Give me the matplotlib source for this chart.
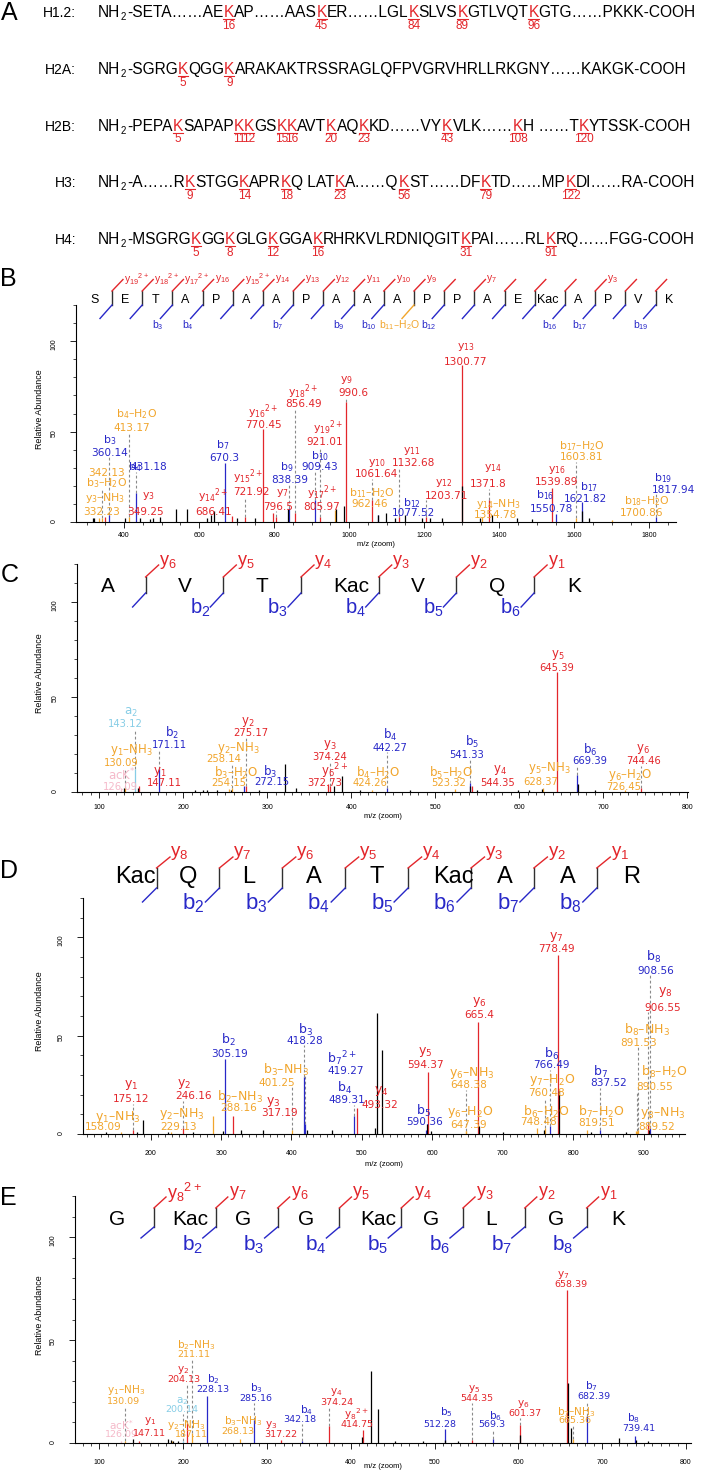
import re
import matplotlib
matplotlib.use('Agg')
import matplotlib.pyplot as plt
from matplotlib.ticker import MultipleLocator

plt.rcParams['font.family'] = ['Liberation Sans', 'DejaVu Sans']

W, H = 701, 1473
fig = plt.figure(figsize=(W / 100, H / 100), dpi=100)
renderer = fig.canvas.get_renderer()

RED = '#e3262b'; BLUE = '#2828c8'; ORANGE = '#f1a52c'; LBLUE = '#86cde6'; PINK = '#f5b9c9'
GREY = '#8a8a8a'
COL = {'y': RED, 'b': BLUE, 'o': ORANGE, 'a': LBLUE, 'k': PINK}
SEQF = 'Liberation Sans'
LABF = 'DejaVu Sans'

# ---------------- Panel A data ----------------
hist_names = ['H1.2:', 'H2A:', 'H2B:', 'H3:', 'H4:']
hist_seqs = [
    'NH2-SETA……AE[K]AP……AAS[K]ER……LGL[K]SLVS[K]GTLVQT[K]GTG……PKKK-COOH',
    'NH2-SGRG[K]QGG[K]ARAKAKTRSSRAGLQFPVGRVHRLLRKGNY……KAKGK-COOH',
    'NH2-PEPA[K]SAPAP[K][K]GS[K][K]AVT[K]AQ[K]KD……VY[K]VLK……[K]H ……T[K]YTSSK-COOH',
    'NH2-A……R[K]STGG[K]APR[K]Q LAT[K]A……Q[K]ST……DF[K]TD……MP[K]DI……RA-COOH',
    'NH2-MSGRG[K]GG[K]GLG[K]GGA[K]RHRKVLRDNIQGIT[K]PAI……RL[K]RQ……FGG-COOH',
]
hist_sites = [[16, 45, 84, 89, 96], [5, 9], [5, 11, 12, 15, 16, 20, 23, 43, 108, 120],
              [9, 14, 18, 23, 56, 79, 122], [5, 8, 12, 16, 31, 91]]

# ---------------- Panel B data ----------------
B_seq = ['S', 'E', 'T', 'A', 'P', 'A', 'A', 'P', 'A', 'A', 'A', 'P', 'P', 'A', 'E', 'Kac', 'A', 'P', 'V', 'K']
B_ylab = {1: 'y_{19}{}^{2+}', 2: 'y_{18}{}^{2+}', 3: 'y_{17}{}^{2+}', 4: 'y_{16}', 5: 'y_{15}{}^{2+}',
          6: 'y_{14}', 7: 'y_{13}', 8: 'y_{12}', 9: 'y_{11}', 10: 'y_{10}', 11: 'y_9', 13: 'y_7', 17: 'y_3'}
B_blab = {3: 'b_3', 4: 'b_4', 7: 'b_7', 9: 'b_9', 10: 'b_{10}', 11: 'b_{11}–H_2O', 12: 'b_{12}',
          16: 'b_{16}', 17: 'b_{17}', 19: 'b_{19}'}
B_bcol = {11: ORANGE}
B_ion_type = ['b', 'b', 'o', 'o', 'o', 'y', 'y', 'b', 'y', 'y', 'y', 'y', 'b', 'y', 'b', 'y', 'y', 'o', 'y',
              'y', 'b', 'y', 'y', 'y', 'o', 'y', 'b', 'b', 'o', 'o', 'b']
B_ion_name = ['b_3', 'b_4', 'b_4–H_2O', 'b_3–H_2O', 'y_3–NH_3', 'y_3', 'y_{14}{}^{2+}', 'b_7',
              'y_{15}{}^{2+}', 'y_{16}{}^{2+}', 'y_{18}{}^{2+}', 'y_7', 'b_9', 'y_{19}{}^{2+}', 'b_{10}',
              'y_{17}{}^{2+}', 'y_9', 'b_{11}–H_2O', 'y_{10}', 'y_{11}', 'b_{12}', 'y_{12}', 'y_{13}',
              'y_{14}', 'y_{14}–NH_3', 'y_{16}', 'b_{16}', 'b_{17}', 'b_{17}–H_2O', 'b_{18}–H_2O', 'b_{19}']
B_ion_mz = [360.14, 431.18, 413.17, 342.13, 332.23, 349.25, 686.41, 670.3, 721.92, 770.45, 856.49, 796.5,
            838.39, 921.01, 909.43, 805.97, 990.6, 962.46, 1061.64, 1132.68, 1077.52, 1203.71, 1300.77,
            1371.8, 1354.78, 1539.89, 1550.78, 1621.82, 1603.81, 1700.86, 1817.94]
B_ion_int = [4, 16, 3, 2, 2, 3, 3.5, 32.5, 3, 51.3, 5, 5, 8, 3, 12, 3, 66.6, 6.5, 12, 3, 4, 3, 86.9, 12, 3,
             18.6, 4.6, 11, 2, 1, 2.6]
B_other_mz = [318, 320, 402.6, 442.6, 470, 478, 496, 538.6, 567, 620, 632, 640, 702, 749, 836, 965, 986.5,
              1076, 1098, 1122, 1149, 1193.5, 1216, 1247, 1302, 1349, 1380, 1447, 1487, 1620, 1640]
B_other_int = [2, 2, 2, 2, 1.5, 2, 3, 7, 7, 2, 4, 6, 2, 2, 7, 7, 9, 4, 5, 2, 4, 2, 2, 2, 20, 2, 4, 2, 1.5, 6, 2]
# label layout (data coordinates)
B_name_xy = [(362.6, 45.4), (429.3, 30.2), (432, 59.6), (353.8, 21.4), (349.3, 13.1), (464.8, 14.4),
             (638, 14.4), (663, 42.6), (731.4, 25.1), (771.4, 61.1), (878, 72.1), (823, 15.9),
             (833.7, 30.1), (944.6, 52.4), (922.5, 36.7), (927, 16.4), (993.6, 78.6), (1060.3, 15.9),
             (1073.6, 32.5), (1167, 39.5), (1167, 10.3), (1251.3, 21.4), (1310.9, 96.7), (1383, 30.1),
             (1397.9, 9.9), (1553.6, 28.8), (1522.4, 14.6), (1640.5, 19.5), (1620, 42.1), (1793.5, 11.8),
             (1837.7, 24.5)]
B_num_xy = [(362.6, 38.4), (464.8, 30.2), (420.5, 52.2), (353.8, 26.9), (340.5, 5.7), (456, 5.7),
            (638, 5.7), (666.6, 35.6), (740.3, 16.4), (771.4, 53.7), (878, 65.3), (811.4, 8.5),
            (842.5, 23.2), (935.8, 44.1), (922.5, 30.2), (927, 8.5), (1011.3, 71.2), (1055.8, 9.9),
            (1073.6, 26.4), (1171.3, 32.8), (1171.3, 4.8), (1260.3, 14.6), (1310.9, 88.7), (1371.3, 21.0),
            (1389, 3.9), (1553.6, 21.9), (1540.3, 7.2), (1629, 12.7), (1620, 35.8), (1780.2, 5.2),
            (1864.4, 17.7)]

# ---------------- Panel C data ----------------
C_seq = ['A', 'V', 'T', 'Kac', 'V', 'Q', 'K']
C_ylab = {1: 'y_6', 2: 'y_5', 3: 'y_4', 4: 'y_3', 5: 'y_2', 6: 'y_1'}
C_blab = {2: 'b_2', 3: 'b_3', 4: 'b_4', 5: 'b_5', 6: 'b_6'}
C_ion_type = ['a', 'o', 'k', 'b', 'y', 'y', 'o', 'o', 'b', 'y', 'y', 'b', 'o', 'b', 'o', 'y', 'y', 'b', 'y',
              'o', 'o']
C_ion_name = ['a_2', 'y_1–NH_3', 'acK{}^{*}', 'b_2', 'y_1', 'y_2', 'y_2–NH_3', 'b_3–H_2O', 'b_3', 'y_3',
              'y_6{}^{2+}', 'b_4', 'b_4–H_2O', 'b_5', 'b_5–H_2O', 'y_4', 'y_5', 'b_6', 'y_6', 'y_6–H_2O',
              'y_5–NH_3']
C_ion_mz = [143.12, 130.09, 126.09, 171.11, 147.11, 275.17, 258.14, 254.15, 272.15, 374.24, 372.73, 442.27,
            424.26, 541.33, 523.32, 544.35, 645.39, 669.39, 744.46, 726.45, 628.37]
C_ion_int = [12, 2, 2, 12, 3, 3, 2, 1.5, 3, 3, 4, 2, 1, 5, 1.5, 3, 63, 9, 2, 1, 2]
C_other_mz = [130, 146, 214, 224, 228, 240, 257, 290, 321, 334, 380, 388.5, 410, 470, 541.8, 550, 598, 612,
              627, 670.5, 690]
C_other_int = [2, 2, 1, 1, 1, 1, 1, 1, 14.6, 2, 3, 8.4, 1, 1, 3, 1, 1, 1, 1.6, 4, 1]
C_name_xy = [(137.4, 41.9), (138.6, 22.1), (126.7, 8.9), (186.9, 31.2), (171.5, 10.7), (276.6, 37),
             (265.5, 23), (263.5, 10.2), (303.2, 10.7), (374.6, 25), (380.5, 10.7), (446.1, 30),
             (432.2, 10.2), (543.3, 26.5), (519.5, 10.2), (577.5, 11.5), (646, 72), (684.2, 22.1),
             (747, 22.6), (732, 8.9), (636.3, 12.4)]
C_num_xy = [(131.4, 35.6), (126.7, 15.1), (124.7, 2.8), (184.1, 24.7), (177.1, 4.6), (280.6, 30.9),
            (247.6, 17.2), (253.6, 4.5), (305.2, 5.4), (374.6, 18.6), (368.7, 4.5), (446.1, 23.3),
            (422.2, 4.5), (537.3, 19.5), (515.6, 4.5), (574.4, 4.9), (644.3, 65.4), (684.2, 16.3),
            (748, 16.3), (724.2, 2.8), (625.7, 5.4)]

# ---------------- Panel D data ----------------
D_seq = ['Kac', 'Q', 'L', 'A', 'T', 'Kac', 'A', 'A', 'R']
D_ylab = {1: 'y_8', 2: 'y_7', 3: 'y_6', 4: 'y_5', 5: 'y_4', 6: 'y_3', 7: 'y_2', 8: 'y_1'}
D_blab = {2: 'b_2', 3: 'b_3', 4: 'b_4', 5: 'b_5', 6: 'b_6', 7: 'b_7', 8: 'b_8'}
D_ion_type = ['y', 'o', 'y', 'o', 'b', 'o', 'y', 'b', 'b', 'o', 'b', 'y', 'b', 'y', 'o', 'o', 'y', 'y', 'b',
              'o', 'o', 'b', 'o', 'b', 'y', 'o', 'o', 'o']
D_ion_name = ['y_1', 'y_1–NH_3', 'y_2', 'y_2–NH_3', 'b_2', 'b_2–NH_3', 'y_3', 'b_3', 'b_7{}^{2+}',
              'b_3–NH_3', 'b_4', 'y_4', 'b_5', 'y_5', 'y_6–NH_3', 'y_6–H_2O', 'y_6', 'y_7', 'b_6',
              'y_7–H_2O', 'b_6–H_2O', 'b_7', 'b_7–H_2O', 'b_8', 'y_8', 'b_8–NH_3', 'b_8–H_2O', 'y_8–NH_3']
D_ion_mz = [175.12, 158.09, 246.16, 229.13, 305.19, 288.16, 317.19, 418.28, 419.27, 401.25, 489.31, 493.32,
            590.36, 594.37, 648.38, 647.39, 665.4, 778.49, 766.49, 760.48, 748.48, 837.52, 819.51, 908.56,
            906.55, 891.53, 890.55, 889.52]
D_ion_int = [2, 1, 3, 1, 38, 9, 9, 29, 5, 2, 9, 13.4, 2, 31.6, 1.5, 1.5, 57, 90.9, 4, 3, 3, 2, 2, 3, 5, 2,
             1.5, 1.5]
D_other_mz = [136, 180, 189.7, 225, 260, 303, 328.4, 359.7, 422.6, 457.6, 519, 521, 528.7, 592, 598, 666.5,
              700, 758, 779.5, 825, 875, 907]
D_other_int = [1, 1, 7.1, 1, 1, 1.5, 2, 2, 2, 2, 3, 61.6, 42.6, 5, 1.5, 4, 1, 2, 22, 1, 1, 2]
D_name_xy = [(172.2, 24.9), (152.7, 8.8), (247.4, 25.2), (244.1, 10), (310.3, 47.7), (327.4, 18.6),
             (374.2, 16.4), (419.2, 52.8), (471.2, 38.4), (392.6, 32.5), (475.9, 23.2), (528, 22),
             (587.2, 11.6), (590.5, 41.8), (656.5, 30.8), (654.2, 11.3), (666.2, 67.1), (776.5, 100.1),
             (769.4, 40.9), (769.4, 27.4), (762.3, 11.3), (838, 31.6), (840.4, 11.3), (913.6, 90),
             (930.1, 72.2), (904.2, 52.8), (930.1, 31.6), (927.7, 10.8)]
D_num_xy = [(172.2, 17.7), (132.9, 3.4), (260.7, 19.3), (239.4, 3.4), (312.7, 40.9), (324.5, 13),
            (383.7, 10.5), (419.2, 47.3), (477.4, 32), (378.6, 26), (479.2, 17.2), (525.6, 14.7),
            (589.6, 5.9), (590.5, 35), (651.8, 24.8), (651.8, 4.5), (666.2, 60.4), (776.5, 94.2),
            (769.4, 35), (762.3, 20.6), (750.4, 6.2), (849.8, 25.7), (833.3, 5.7), (917.5, 82.9),
            (927.7, 64.3), (892.3, 46.3), (915.9, 24), (918.3, 3.7)]

# ---------------- Panel E data ----------------
E_seq = ['G', 'Kac', 'G', 'G', 'Kac', 'G', 'L', 'G', 'K']
E_ylab = {1: 'y_8{}^{2+}', 2: 'y_7', 3: 'y_6', 4: 'y_5', 5: 'y_4', 6: 'y_3', 7: 'y_2', 8: 'y_1'}
E_blab = {2: 'b_2', 3: 'b_3', 4: 'b_4', 5: 'b_5', 6: 'b_6', 7: 'b_7', 8: 'b_8'}
E_ion_type = ['k', 'o', 'y', 'y', 'o', 'a', 'o', 'b', 'b', 'o', 'y', 'b', 'y', 'y', 'b', 'y', 'b', 'y', 'y',
              'o', 'b', 'b']
E_ion_name = ['acK{}^{*}', 'y_1–NH_3', 'y_1', 'y_2', 'b_2–NH_3', 'a_2', 'y_2–NH_3', 'b_2', 'b_3', 'b_3–NH_3',
              'y_3', 'b_4', 'y_4', 'y_8{}^{2+}', 'b_5', 'y_5', 'b_6', 'y_6', 'y_7', 'b_7–NH_3', 'b_7', 'b_8']
E_ion_mz = [126.09, 130.09, 147.11, 204.13, 211.11, 200.14, 187.11, 228.13, 285.16, 268.13, 317.22, 342.18,
            374.24, 414.75, 512.28, 544.35, 569.3, 601.37, 658.39, 665.36, 682.39, 739.41]
E_ion_int = [1, 1, 1, 9.7, 5, 1, 1, 23, 11, 2, 1.5, 1, 8.1, 6.5, 6.8, 1.5, 2, 8.9, 74.1, 2, 12.9, 3.5]
E_other_mz = [139.8, 182, 185, 188, 194, 413.5, 424.2, 432.6, 453, 486, 512.8, 528, 602.5, 659.5, 663.2,
              720, 740, 755]
E_other_int = [2, 2, 1.5, 1, 1, 3, 34.8, 16.6, 1, 1, 1.5, 1, 4, 29, 7.3, 2.3, 1.5, 1]
E_name_xy = [(126.7, 8.9), (132.7, 25.9), (160.5, 10.5), (200.2, 35.6), (216.2, 47.7), (199.5, 20.5),
             (204.3, 8.9), (236, 31), (287.2, 26.7), (271.8, 10.5), (304.9, 8.9), (347.5, 16.2),
             (382.5, 24.6), (406.3, 14.1), (514.6, 15.2), (547.5, 26.3), (572.2, 13), (605.3, 19.1),
             (653.7, 81.7), (669.7, 14.9), (686.8, 27.8), (737, 12.1)]
E_num_xy = [(125.9, 4), (128.6, 20.2), (159.7, 4.8), (201, 30.7), (212.2, 42.9), (198.3, 16.2), (209.4, 4),
            (236, 25.9), (287.2, 21.8), (265.9, 5.6), (316.8, 4), (339.5, 11.3), (383.3, 19.7),
            (407.2, 9), (506.6, 9), (550.4, 21.8), (568.3, 9), (608, 14.3), (662.9, 77.1), (667.6, 10.9),
            (690.7, 22.7), (744, 7)]


def tex(s):
    return r'$\mathregular{' + s + '}$'


# ---------------- overlay in pixel coordinates ----------------
ov = fig.add_axes([0, 0, 1, 1])
ov.set_xlim(0, W)
ov.set_ylim(H, 0)
ov.axis('off')
ov.set_zorder(10)


def tw(text, fs, family=SEQF):
    t = ov.text(0, 0, text, fontsize=fs, family=family)
    w = t.get_window_extent(renderer).width
    t.remove()
    return w


def row_width(seq, fs):
    return tw('NH', fs) + tw('2', fs * 0.62) + 2.2 + tw(seq[3:].replace('[K]', 'K'), fs)


def draw_row(label, seq, sites, baseline, fs):
    ov.text(76, baseline, label, ha='right', va='baseline', fontsize=10, family=SEQF)
    x0 = 98
    ov.text(x0, baseline, 'NH', ha='left', va='baseline', fontsize=fs, family=SEQF)
    wnh = tw('NH', fs)
    ov.text(x0 + wnh + 0.6, baseline + 2.8, '2', ha='left', va='baseline', fontsize=fs * 0.62, family=SEQF)
    x1 = x0 + wnh + tw('2', fs * 0.62) + 1.6
    pieces = [p for p in re.split(r'(\[K\])', seq[3:]) if p]
    prefix = ''
    k = 0
    for p in pieces:
        txt = 'K' if p == '[K]' else p
        wp = tw(txt, fs)
        xs = x1 + tw(prefix + txt, fs) - wp
        if p == '[K]':
            ov.text(xs, baseline, 'K', ha='left', va='baseline', fontsize=fs, family=SEQF, color=RED)
            ov.plot([xs, xs + wp], [baseline + 1.8] * 2, color=RED, lw=0.8)
            ov.text(xs + wp / 2, baseline + 11.5, str(sites[k]), ha='center', va='baseline',
                    fontsize=8.5, family=SEQF, color=RED)
            k += 1
        else:
            ov.text(xs, baseline, txt, ha='left', va='baseline', fontsize=fs, family=SEQF)
        prefix += txt


fs_seq = 10 * 602 / row_width(hist_seqs[0], 10)
for i, (nm, sq, st) in enumerate(zip(hist_names, hist_seqs, hist_sites)):
    draw_row(nm, sq, st, 17.3 + 56.7 * i, fs_seq)

# panel letters
for lab, x, yb in [('A', 0.5, 20), ('B', 0.0, 286.5), ('C', 0.5, 582), ('D', 0.0, 878), ('E', 0.5, 1205)]:
    ov.text(x, yb, lab, fontsize=18, family=SEQF, ha='left', va='baseline')


def draw_header(letters, letter_x, letter_ha, base_y, let_fs, mark_x, vt, vb, rd, bd, ylabs, blabs,
                r_fs, b_fs, r_dx, r_y, b_dx, b_y, b_ha, bcol=None):
    bcol = bcol or {}
    for L, x in zip(letters, letter_x):
        ov.text(x, base_y, L, ha=letter_ha, va='baseline', fontsize=let_fs, family=SEQF)
    for i, m in enumerate(mark_x, start=1):
        c = bcol.get(i, BLUE)
        ov.plot([m, m], [vt, vb], color='#303030', lw=1.0)
        ov.plot([m, m + rd[0]], [vt, vt - rd[1]], color=RED, lw=1.0)
        ov.plot([m, m - bd[0]], [vb, vb + bd[1]], color=c, lw=1.0)
        if i in ylabs:
            ov.text(m + r_dx, r_y, tex(ylabs[i]), ha='left', va='center', color=RED, fontsize=r_fs,
                    family=SEQF)
        if i in blabs:
            ov.text(m + b_dx, b_y, tex(blabs[i]), ha=b_ha, va='center', color=c, fontsize=b_fs,
                    family=SEQF)


# B header
Bm = [112 + 30.2 * i for i in range(len(B_seq))]
draw_header(B_seq, [m - 17 for m in Bm], 'center', 303, 9, Bm[:-1], 291, 305, (11, 11.5), (12, 13.5),
            B_ylab, B_blab, 7.5, 7.5, 12, 279, -15, 325, 'center', B_bcol)
# C header
draw_header(C_seq, [100.6 + 77.7 * j for j in range(len(C_seq))], 'left', 591.7, 15,
            [145.6 + 77.7 * i for i in range(len(C_seq) - 1)], 577, 593, (13, 12), (13, 14),
            C_ylab, C_blab, 13, 14.5, 13.5, 562, -13, 608, 'right')
# D header
draw_header(D_seq, [115.5 + 63.5 * j for j in range(len(D_seq))], 'left', 883.3, 17,
            [156.5 + 62.9 * i for i in range(len(D_seq) - 1)], 868, 888, (13.5, 11), (14, 14),
            D_ylab, D_blab, 13.5, 16, 14, 853, -15, 903, 'right')
# E header
draw_header(E_seq, [109.5 + 62.7 * j for j in range(len(E_seq))], 'left', 1225, 15,
            [154 + 61.8 * i for i in range(len(E_seq) - 1)], 1208, 1227, (12, 11), (13, 11),
            E_ylab, E_blab, 13, 15, 13, 1193, -13, 1245, 'right')


def spectrum(rect, xlim, xmajor, xminor, xpad, ion_type, ion_name, ion_mz, ion_int, name_xy, num_xy,
             other_mz, other_int, name_fs, num_fs, xlab_y):
    l, t, r, b = rect
    ax = fig.add_axes([l / W, 1 - b / H, (r - l) / W, (b - t) / H])
    ax.set_xlim(*xlim)
    ax.set_ylim(0, 120)
    for sp in ['top', 'right']:
        ax.spines[sp].set_visible(False)
    for sp in ['left', 'bottom']:
        ax.spines[sp].set_linewidth(0.8)
    ax.xaxis.set_major_locator(MultipleLocator(xmajor))
    ax.xaxis.set_minor_locator(MultipleLocator(xminor))
    ax.yaxis.set_major_locator(MultipleLocator(50))
    ax.yaxis.set_minor_locator(MultipleLocator(10))
    ax.tick_params(axis='both', which='major', length=4, width=0.6, labelsize=5, direction='out')
    ax.tick_params(axis='both', which='minor', length=2.2, width=0.5, direction='out')
    ax.tick_params(axis='x', pad=xpad)
    ax.tick_params(axis='y', pad=9, labelrotation=90)
    ppu = (b - t) / 120.0
    ax.vlines(ion_mz, 0, ion_int, colors=[COL[k] for k in ion_type], lw=0.9, zorder=2)
    ax.vlines(other_mz, 0, other_int, colors='black', lw=0.9, zorder=3)
    for k in range(len(ion_mz)):
        c = COL[ion_type[k]]
        nx, ny = name_xy[k]
        ux, uy = num_xy[k]
        ax.text(nx, ny, tex(ion_name[k]), ha='center', va='center', color=c, fontsize=name_fs,
                family=LABF, clip_on=False, zorder=4)
        ax.text(ux, uy, str(ion_mz[k]), ha='center', va='center', color=c, fontsize=num_fs,
                family=LABF, clip_on=False, zorder=4)
        bottom = min(ny, uy) - 4.5 / ppu
        if bottom - ion_int[k] > 2.0:
            ax.plot([ion_mz[k], ion_mz[k]], [ion_int[k], bottom], ls=(0, (2.5, 2)), color=GREY, lw=0.8,
                    zorder=1)
    ov.text((l + r) / 2, xlab_y, 'm/z (zoom)', ha='center', va='center', fontsize=5.5, family=SEQF)
    ov.text(40, (t + b) / 2 - 4.5, 'Relative Abundance', ha='center', va='center', rotation=90,
            fontsize=6.4, family=SEQF)
    return ax


spectrum((76, 305, 676, 522), (272, 1871), 200, 50, 3.5, B_ion_type, B_ion_name, B_ion_mz, B_ion_int,
         B_name_xy, B_num_xy, B_other_mz, B_other_int, 7.8, 7.6, 545)
spectrum((77, 564, 688, 792), (73.5, 801), 100, 10, 4.5, C_ion_type, C_ion_name, C_ion_mz, C_ion_int,
         C_name_xy, C_num_xy, C_other_mz, C_other_int, 8.5, 7.2, 816)
spectrum((83, 898, 685, 1134), (104, 958.7), 100, 10, 7.5, D_ion_type, D_ion_name, D_ion_mz, D_ion_int,
         D_name_xy, D_num_xy, D_other_mz, D_other_int, 9, 7.6, 1165)
spectrum((75, 1196, 691, 1443), (71, 806), 100, 10, 7.5, E_ion_type, E_ion_name, E_ion_mz, E_ion_int,
         E_name_xy, E_num_xy, E_other_mz, E_other_int, 7.6, 6.8, 1467)

fig.savefig('out.png', dpi=100)
